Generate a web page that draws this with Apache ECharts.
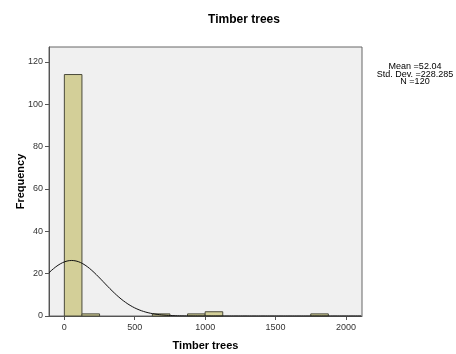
<!DOCTYPE html>
<html>
<head>
<meta charset="utf-8">
<script src="https://cdn.jsdelivr.net/npm/echarts@6/dist/echarts.min.js"></script>
<style>
  html, body { margin: 0; padding: 0; background: #fff; }
  #chart { width: 456px; height: 354px; }
</style>
</head>
<body>
<div id="chart"></div>
<script>
// Histogram bins of timber tree counts (bin width 125)
const binStarts = [0, 125, 625, 875, 1000, 1750];
const binWidth = 125;
const frequencies = [114, 1, 1, 1, 2, 1];

// Summary statistics shown beside the plot
const statMean = 52.04;
const statSd = 228.285;
const statN = 120;

const xTicks = [0, 500, 1000, 1500, 2000];
const yTicks = [0, 20, 40, 60, 80, 100, 120];

const xMin = -109, xMax = 2114;
const yMin = 0, yMax = 127;

// Fitted normal curve scaled to the histogram (N * bin width * density)
const curve = [];
for (let x = xMin; x <= xMax; x += 4) {
  const z = (x - statMean) / statSd;
  const y = statN * binWidth * Math.exp(-0.5 * z * z) / (statSd * Math.sqrt(2 * Math.PI));
  curve.push([x, y]);
}

const bars = binStarts.map((s, i) => [s, s + binWidth, frequencies[i]]);

const chart = echarts.init(document.getElementById('chart'), null, { renderer: 'canvas' });
const FONT = 'Liberation Sans, Arial, sans-serif';
const axisFont = { fontFamily: FONT, fontSize: 9, color: '#333' };

chart.setOption({
  animation: false,
  backgroundColor: '#ffffff',
  title: {
    text: 'Timber trees',
    left: 239, top: 9, textAlign: 'center',
    textStyle: { fontFamily: FONT, fontSize: 12, fontWeight: 'bold', color: '#000' }
  },
  grid: {
    left: 49, right: 94, top: 47, bottom: 38,
    outerBoundsMode: 'none',
    show: true, backgroundColor: '#f0f0f0', borderColor: '#666', borderWidth: 1
  },
  xAxis: {
    type: 'value', min: xMin, max: xMax,
    name: 'Timber trees', nameLocation: 'middle', nameGap: 24, nameMoveOverlap: false,
    nameTextStyle: { fontFamily: FONT, fontSize: 11, fontWeight: 'bold', color: '#000' },
    axisLine: { show: true, onZero: false, lineStyle: { color: '#555' } },
    axisTick: { show: true, inside: false, length: 4, customValues: xTicks, lineStyle: { color: '#555' } },
    axisLabel: Object.assign({ customValues: xTicks, margin: 7, formatter: v => String(v) }, axisFont),
    splitLine: { show: false }
  },
  yAxis: {
    type: 'value', min: yMin, max: yMax,
    name: 'Frequency', nameLocation: 'middle', nameGap: 23, nameRotate: 90, nameMoveOverlap: false,
    nameTextStyle: { fontFamily: FONT, fontSize: 11, fontWeight: 'bold', color: '#000' },
    axisLine: { show: true, onZero: false, lineStyle: { color: '#555' } },
    axisTick: { show: true, inside: false, length: 4, customValues: yTicks, lineStyle: { color: '#555' } },
    axisLabel: Object.assign({ customValues: yTicks, margin: 6, formatter: v => String(v) }, axisFont),
    splitLine: { show: false }
  },
  series: [
    {
      type: 'custom',
      data: bars,
      renderItem: function (params, api) {
        const p0 = api.coord([api.value(0), api.value(2)]);
        const p1 = api.coord([api.value(1), 0]);
        return {
          type: 'rect',
          shape: { x: p0[0], y: p0[1], width: p1[0] - p0[0], height: p1[1] - p0[1] },
          style: { fill: '#d3cf98', stroke: '#4a4a3a', lineWidth: 1 }
        };
      },
      encode: { x: [0, 1], y: 2 },
      z: 2
    },
    {
      type: 'line',
      data: curve,
      showSymbol: false,
      lineStyle: { color: '#111', width: 1 },
      z: 3
    }
  ],
  graphic: [
    {
      type: 'text',
      x: 415, y: 63,
      style: {
        text: 'Mean =' + statMean + '\nStd. Dev. =' + statSd + '\nN =' + statN,
        align: 'center', fill: '#000',
        font: '9px Liberation Sans, Arial, sans-serif', lineHeight: 7.5
      }
    }
  ]
});
</script>
</body>
</html>
